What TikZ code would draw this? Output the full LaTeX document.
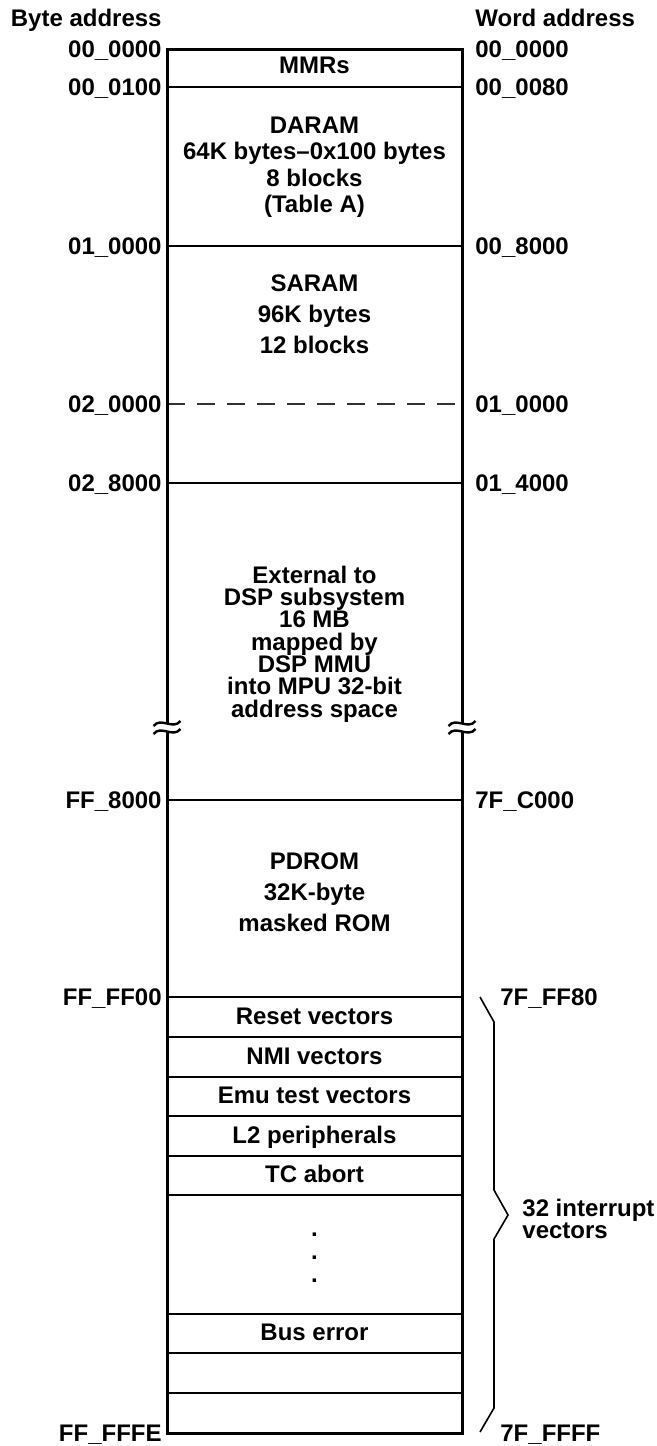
\documentclass[tikz,border=0pt]{standalone}
\usepackage{fontspec}
\setmainfont{Liberation Sans}
\usepackage{tikz}
\usetikzlibrary{positioning}

\begin{document}
\begin{tikzpicture}[
    x=0.5pt, y=-0.5pt,
    font=\fontsize{12}{12.5}\selectfont\bfseries,
    every node/.style={inner sep=0pt},
    frame/.style  ={line width=1.5pt, draw=black},
    sep/.style    ={line width=0.6pt, draw=black},
    split/.style  ={line width=0.6pt, draw=black!80,
                    dash pattern=on 9pt off 6pt},
    brk/.style    ={line width=1.2pt, draw=black},
    bracket/.style={line width=0.8pt, draw=black},
    blk/.style    ={align=center},
    row/.style    ={text height=0.72em, text depth=0pt},
    laddr/.style  ={row, anchor=east},
    raddr/.style  ={row, anchor=west},
  ]

  %% --- geometry (pixels, y down) ----------------------------------------
  \def\xl{167}    % left edge of the map
  \def\xr{462}    % right edge of the map
  \def\xm{314.5}  % middle
  \def\xa{162}    % byte addresses end here
  \def\xb{475}    % word addresses start here
  \def\xc{500}    % word addresses beside the bracket

  \useasboundingbox (0,0) rectangle (657,1446);

  %% =====================================================================
  %% region boundaries
  %% =====================================================================
  \draw[sep] (\xl,87) -- (\xr,87);
  \draw[sep] (\xl,246) -- (\xr,246);
  \draw[split] (\xl,404) -- (\xr,404);
  \draw[sep] (\xl,483) -- (\xr,483);
  \draw[sep] (\xl,800) -- (\xr,800);
  \draw[sep] (\xl,997) -- (\xr,997);
  % vector table rows
  \draw[sep] (\xl,1037) -- (\xr,1037);
  \draw[sep] (\xl,1077) -- (\xr,1077);
  \draw[sep] (\xl,1116) -- (\xr,1116);
  \draw[sep] (\xl,1156) -- (\xr,1156);
  \draw[sep] (\xl,1195) -- (\xr,1195);
  \draw[sep] (\xl,1314) -- (\xr,1314);
  \draw[sep] (\xl,1353) -- (\xr,1353);
  \draw[sep] (\xl,1393) -- (\xr,1393);
  % outer frame (drawn last so it stays crisp)
  \draw[frame] (\xl,49) rectangle (\xr,1433);

  % break marks on both sides
  \fill[white] ({\xl-2},724) rectangle ({\xl+2},731);
  \fill[white] ({\xr-2},724) rectangle ({\xr+2},731);
  \draw[brk] ({\xl-13.5},726) .. controls ({\xl-6},716.5) and ({\xl+6},730.5) .. ({\xl+13.5},721);
  \draw[brk] ({\xl-13.5},734) .. controls ({\xl-6},724.5) and ({\xl+6},738.5) .. ({\xl+13.5},729);
  \draw[brk] ({\xr-13.5},726) .. controls ({\xr-6},716.5) and ({\xr+6},730.5) .. ({\xr+13.5},721);
  \draw[brk] ({\xr-13.5},734) .. controls ({\xr-6},724.5) and ({\xr+6},738.5) .. ({\xr+13.5},729);

  %% =====================================================================
  %% region contents
  %% =====================================================================
  \node[row] (mmrs) at (\xm,66) {MMRs};
  \node[blk, font=\fontsize{12}{13.25}\selectfont\bfseries] (daram) at (\xm,167)
        {DARAM\\64K bytes--0x100 bytes\\8 blocks\\(Table A)};
  \node[blk] (saram) at (\xm,314)
        {SARAM\\[3pt]96K bytes\\[3pt]12 blocks};
  \node[blk, font=\fontsize{12}{11.15}\selectfont\bfseries] (ext) at (\xm,644)
        {External to\\DSP subsystem\\16 MB\\mapped by\\DSP MMU\\into MPU 32-bit\\address space};
  \node[blk] (pdrom) at (\xm,892)
        {PDROM\\[3pt]32K-byte\\[3pt]masked ROM};
  \node[row] (reset)  at (\xm,1017)   {Reset vectors};
  \node[row] (nmi)    at (\xm,1057)   {NMI vectors};
  \node[row] (emu)    at (\xm,1096.5) {Emu test vectors};
  \node[row] (ltwo)   at (\xm,1136)   {L2 peripherals};
  \node[row] (tcab)   at (\xm,1175.5) {TC abort};
  \node[blk, font=\fontsize{12}{11.5}\selectfont\bfseries] (dots) at (\xm,1258)
        {.\\.\\.};
  \node[row] (buserr) at (\xm,1333.5) {Bus error};

  %% =====================================================================
  %% byte addresses (left)
  %% =====================================================================
  \node[laddr] (bytehdr) at (\xa,19)   {Byte address};
  \node[laddr] (b0)      at (\xa,50)   {00\_0000};
  \node[laddr] (b1)      at (\xa,88)   {00\_0100};
  \node[laddr] (b2)      at (\xa,247)  {01\_0000};
  \node[laddr] (b3)      at (\xa,405)  {02\_0000};
  \node[laddr] (b4)      at (\xa,484)  {02\_8000};
  \node[laddr] (b5)      at (\xa,801)  {FF\_8000};
  \node[laddr] (b6)      at (\xa,998)  {FF\_FF00};
  \node[laddr] (b7)      at (\xa,1434) {FF\_FFFE};

  %% =====================================================================
  %% word addresses (right)
  %% =====================================================================
  \node[raddr] (wordhdr) at (\xb,19)   {Word address};
  \node[raddr] (w0)      at (\xb,50)   {00\_0000};
  \node[raddr] (w1)      at (\xb,88)   {00\_0080};
  \node[raddr] (w2)      at (\xb,247)  {00\_8000};
  \node[raddr] (w3)      at (\xb,405)  {01\_0000};
  \node[raddr] (w4)      at (\xb,484)  {01\_4000};
  \node[raddr] (w5)      at (\xb,801)  {7F\_C000};
  \node[raddr] (w6)      at (\xc,998)  {7F\_FF80};
  \node[raddr] (w7)      at (\xc,1434) {7F\_FFFF};

  % bracket over the interrupt vector table
  \draw[bracket] (480,997) -- (494,1022) -- (494,1190) -- (508,1215)
                 -- (494,1239) -- (494,1408) -- (480,1432);
  \node[blk, align=left, anchor=west,
        font=\fontsize{12}{11}\selectfont\bfseries] (ivec) at (522,1219)
        {32 interrupt\\vectors};

\end{tikzpicture}
\end{document}
